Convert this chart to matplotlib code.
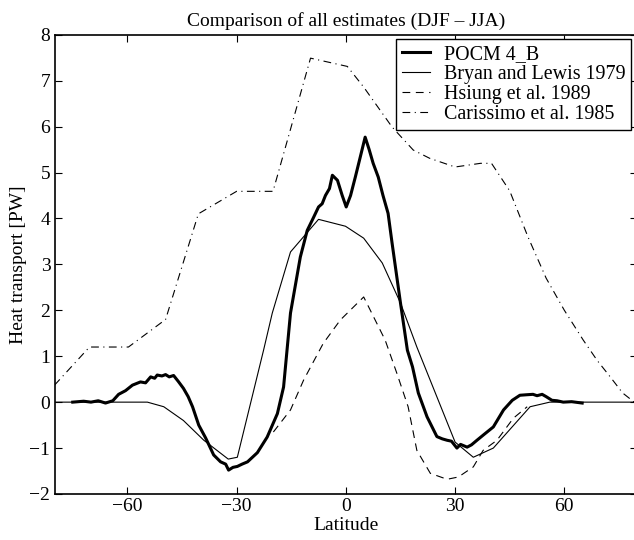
import numpy as np
import matplotlib
matplotlib.use("Agg")
import matplotlib.pyplot as plt

plt.rcParams['font.family'] = ['Liberation Serif', 'DejaVu Serif']
plt.rcParams['font.size'] = 14

# POCM 4_B (thick line)
pocm_lat = [-75, -72, -70, -68, -66, -64, -62.4, -60.5, -58.6, -56.4, -55, -53.6, -52.5, -51.8,
            -50.5, -49.5, -48.5, -47.3, -46, -44.6, -43.3, -42.1, -40.4, -38.5, -36.3, -34.4,
            -33, -32.2, -31, -29.8, -28.5, -27, -24.3, -21.6, -18.8, -17.1, -15.2, -12.5,
            -10.6, -9, -7.5, -6.5, -5.6, -4.5, -3.7, -2.3, -1, 0.1, 1.3, 2.6, 4, 5.3, 6.4,
            7.5, 8.9, 10.2, 11.6, 12.7, 15, 16.9, 18.3, 19.9, 22.3, 25, 26.5, 27.8, 29,
            30.5, 31.5, 33.3, 34.5, 36, 38, 40.5, 43.3, 45.7, 47.8, 49.5, 51.4, 52.5,
            53.9, 55, 56.6, 58, 59.7, 62, 64.9]
pocm_val = [0.0, 0.02, 0.0, 0.03, -0.02, 0.03, 0.17, 0.25, 0.37, 0.44, 0.42, 0.55, 0.52, 0.59,
            0.57, 0.6, 0.55, 0.58, 0.45, 0.3, 0.12, -0.1, -0.5, -0.78, -1.15, -1.3,
            -1.35, -1.48, -1.42, -1.4, -1.35, -1.3, -1.1, -0.76, -0.25, 0.33, 1.94, 3.16,
            3.74, 4.0, 4.25, 4.32, 4.5, 4.65, 4.94, 4.83, 4.5, 4.25, 4.5, 4.9, 5.35, 5.77, 5.5,
            5.2, 4.9, 4.5, 4.11, 3.46, 2.16, 1.13, 0.77, 0.2, -0.32, -0.75, -0.8, -0.83, -0.85,
            -1.0, -0.92, -0.98, -0.93, -0.83, -0.7, -0.54, -0.17, 0.04, 0.15, 0.16, 0.17, 0.14,
            0.17, 0.12, 0.04, 0.03, 0.0, 0.01, -0.02]

# Bryan and Lewis 1979 (thin line)
bryan_lat = [-80, -54.5, -50, -44.6, -39, -32.3, -29.8, -22.6, -20.2, -15.2, -7.5, -0.1,
             4.9, 10, 15, 19.5, 30, 35, 40.5, 50.6, 56, 80]
bryan_val = [0, 0, -0.1, -0.4, -0.83, -1.24, -1.2, 1.13, 1.94, 3.27, 3.98, 3.83,
             3.57, 3.03, 2.16, 1.2, -0.87, -1.2, -1.0, -0.1, 0, 0]

# Hsiung et al. 1989 (dashed)
hsiung_lat = [-19.9, -15.2, -11.6, -6.2, -1.5, 4.9, 10.8, 14, 17.1, 19.5, 23.2, 27.8,
              30.9, 35, 37.7, 41.5, 46, 49.8]
hsiung_val = [-0.65, -0.17, 0.48, 1.28, 1.79, 2.29, 1.35, 0.63, -0.1, -1.05, -1.55, -1.68,
              -1.63, -1.41, -1.05, -0.83, -0.35, -0.1]

# Carissimo et al. 1985 (dash-dot)
cariss_lat = [-80, -70.4, -59.7, -49.5, -40.5, -30, -20, -9.7, 0.4, 4.9, 12.7, 18.5, 23,
              30, 37, 40, 45, 50, 55, 60, 65.2, 69, 72.6, 76, 80]
cariss_val = [0.37, 1.2, 1.2, 1.8, 4.1, 4.59, 4.59, 7.49, 7.31, 6.86, 5.99, 5.49, 5.31,
              5.12, 5.2, 5.2, 4.6, 3.6, 2.7, 2.0, 1.35, 0.91, 0.55, 0.2, -0.05]

xticks = [-60, -30, 0, 30, 60]
yticks = list(range(-2, 9))

fig = plt.figure(figsize=(6.34, 5.4), dpi=100)
ax = fig.add_axes([0.086, 0.0852, 0.919, 0.8505])

ax.plot(pocm_lat, pocm_val, color='black', lw=2.2, label='POCM 4_B')
ax.plot(bryan_lat, bryan_val, color='black', lw=0.8, label='Bryan and Lewis 1979')
ax.plot(hsiung_lat, hsiung_val, color='black', lw=0.8, linestyle=(0, (7, 5)),
        label='Hsiung et al. 1989')
ax.plot(cariss_lat, cariss_val, color='black', lw=0.8, linestyle=(0, (7, 4, 1, 4)),
        label='Carissimo et al. 1985')

ax.set_xlim(-80, 80)
ax.set_ylim(-2, 8)
ax.set_xticks(xticks)
ax.set_yticks(yticks)
ax.set_xticklabels(['\u2212%d' % -t if t < 0 else str(t) for t in xticks])
ax.set_yticklabels(['\u2212%d' % -t if t < 0 else str(t) for t in yticks])
ax.tick_params(direction='in', top=True, right=True, length=5, width=0.8, pad=3)
for s in ax.spines.values():
    s.set_linewidth(1.2)

ax.set_xlabel('Latitude', labelpad=1)
ax.set_ylabel('Heat transport [PW]', labelpad=2)
ax.set_title('Comparison of all estimates (DJF \u2013 JJA)', fontsize=14, pad=6)

leg = ax.legend(loc='upper right', bbox_to_anchor=(0.996, 0.928),
                bbox_transform=fig.transFigure, borderaxespad=0, fancybox=False,
                edgecolor='black', framealpha=1, handlelength=1.4, labelspacing=0.06,
                borderpad=0.3, handletextpad=0.7, fontsize=14.4)
leg.get_frame().set_linewidth(1.0)

fig.savefig('out.png', dpi=100)
